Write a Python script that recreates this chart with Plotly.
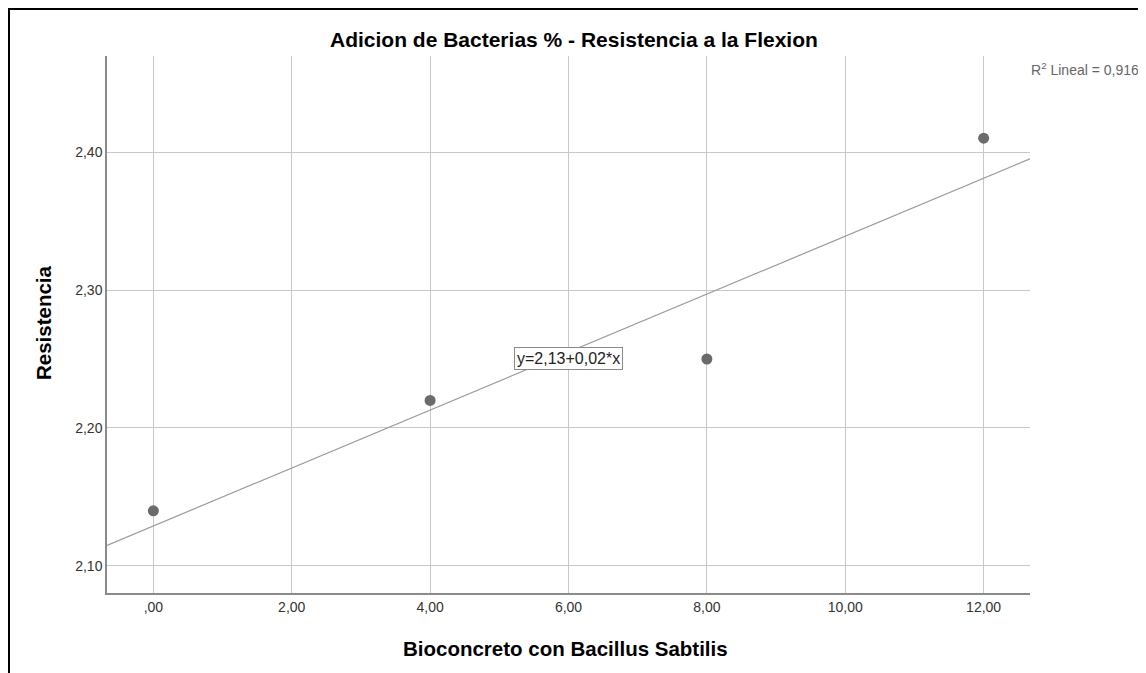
import numpy as np
import plotly.graph_objects as go

# Data
bacteria_pct = [0, 4, 8, 12]
resistencia = [2.14, 2.22, 2.25, 2.41]
x_tick_vals = [0, 2, 4, 6, 8, 10, 12]
x_tick_text = [",00", "2,00", "4,00", "6,00", "8,00", "10,00", "12,00"]
y_tick_vals = [2.10, 2.20, 2.30, 2.40]
y_tick_text = ["2,10", "2,20", "2,30", "2,40"]
title_text = "Adicion de Bacterias % - Resistencia a la Flexion"
x_title = "Bioconcreto con Bacillus Sabtilis"
y_title = "Resistencia"

x_range = [-0.67, 12.67]
y_range = [2.0804, 2.4696]

slope, intercept = np.polyfit(bacteria_pct, resistencia, 1)
pred = np.polyval([slope, intercept], bacteria_pct)
ss_res = np.sum((np.array(resistencia) - pred) ** 2)
ss_tot = np.sum((np.array(resistencia) - np.mean(resistencia)) ** 2)
r2 = 1 - ss_res / ss_tot

font_family = "Liberation Sans, Arial, sans-serif"

# page has an 8px body margin: figure origin sits at page (8, 8)
OFF = 8
PL, PT, PR, PB = 107, 56, 1030, 593  # plot area in page pixels
PW, PH = PR - PL, PB - PT


def px(xp):
    return (xp - PL) / PW


def py(yp):
    return (PB - yp) / PH


fig = go.Figure()
line_x = np.array(x_range)
fig.add_trace(go.Scatter(x=line_x, y=intercept + slope * line_x, mode="lines",
                         line=dict(color="#9a9a9a", width=1.2), hoverinfo="skip", showlegend=False))
fig.add_trace(go.Scatter(x=bacteria_pct, y=resistencia, mode="markers",
                         marker=dict(color="#6b6b6b", size=11), showlegend=False))

W, H = 1146 - OFF, 673 - OFF
fig.update_layout(
    width=W, height=H,
    margin=dict(l=PL - OFF, r=W - (PR - OFF), t=PT - OFF, b=H - (PB - OFF)),
    paper_bgcolor="white", plot_bgcolor="white",
    font=dict(family=font_family, color="#333333", size=14),
    xaxis=dict(range=x_range, tickvals=x_tick_vals, ticktext=x_tick_text,
               showgrid=True, gridcolor="#c8c8c8", gridwidth=1,
               showline=True, linecolor="#8a8a8a", linewidth=1.5,
               zeroline=False, ticks="", ticklen=0, tickfont=dict(size=14, color="#333333")),
    yaxis=dict(range=y_range, tickvals=y_tick_vals, ticktext=y_tick_text,
               showgrid=True, gridcolor="#c8c8c8", gridwidth=1,
               showline=True, linecolor="#8a8a8a", linewidth=1.5,
               zeroline=False, ticks="", ticklen=0, tickfont=dict(size=14, color="#333333")),
)

fig.add_annotation(text=f"<b>{title_text}</b>", xref="paper", yref="paper",
                   x=px(574), y=py(39), xanchor="center", yanchor="middle",
                   showarrow=False, font=dict(size=21, color="black"))
fig.add_annotation(text=f"<b>{x_title}</b>", xref="paper", yref="paper",
                   x=px(565), y=py(648), xanchor="center", yanchor="middle",
                   showarrow=False, font=dict(size=20.5, color="black"))
fig.add_annotation(text=f"<b>{y_title}</b>", xref="paper", yref="paper",
                   x=px(43), y=py(323), xanchor="center", yanchor="middle",
                   textangle=-90, showarrow=False, font=dict(size=20.5, color="black"))
fig.add_annotation(text="R<sup>2</sup> Lineal = " + f"{r2:.3f}".replace(".", ","),
                   xref="paper", yref="paper", x=px(1141), y=py(69),
                   xanchor="right", yanchor="middle", showarrow=False,
                   font=dict(size=14, color="#666666"))
fig.add_annotation(text=f"y={intercept:.2f}+{slope:.2f}*x".replace(".", ","),
                   x=6.0, y=2.2504, xref="x", yref="y", showarrow=False,
                   bgcolor="white", bordercolor="#8a8a8a", borderwidth=1, borderpad=2,
                   font=dict(size=16, color="#222222"))

fig.add_shape(type="rect", xref="paper", yref="paper",
              x0=px(9), x1=px(1141), y0=py(700), y1=py(9),
              line=dict(color="black", width=2), fillcolor="rgba(0,0,0,0)", layer="above")

fig.write_html("out.html")
